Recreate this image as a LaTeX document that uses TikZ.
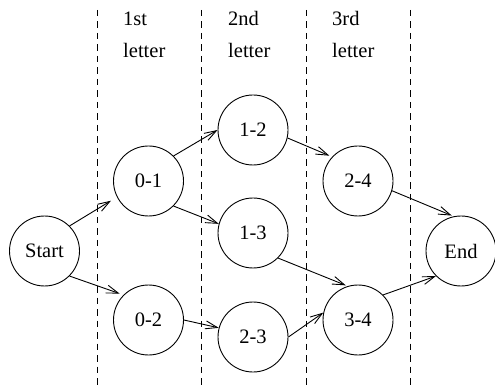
\documentclass[tikz,border=0pt]{standalone}
\usepackage{fontspec}
\setmainfont{Liberation Serif}
\usetikzlibrary{arrows.meta}
\begin{document}
\begin{tikzpicture}[x=1pt,y=-1pt,
  st/.style={circle,draw,line width=0.9pt,minimum size=70pt,inner sep=0pt,font=\fontsize{20.5}{24}\selectfont},
  lbl/.style={anchor=base west,inner sep=0pt,font=\fontsize{20.5}{24}\selectfont},
  arr/.style={line width=0.9pt,-{Straight Barb[length=12pt,width=8pt,line width=0.9pt]}},
  sep/.style={line width=0.9pt,dash pattern=on 6.5pt off 5pt}]
\useasboundingbox (0,0) rectangle (495,387);
\foreach \x/\n in {97/d1,201/d2,306/d3,410/d4}{
  \coordinate (\n t) at (\x,10);
  \coordinate (\n b) at (\x,387);
  \draw[sep] (\n t) -- (\n b);
}
\node[lbl] (l1a) at (123,26) {1st};
\node[lbl] (l1b) at (123,58) {letter};
\node[lbl] (l2a) at (228,26) {2nd};
\node[lbl] (l2b) at (228,58) {letter};
\node[lbl] (l3a) at (332,26) {3rd};
\node[lbl] (l3b) at (332,58) {letter};

\node[st] (s) at (44.5,251) {Start};
\node[st] (a01) at (148.5,181) {0-1};
\node[st] (a02) at (148.5,320) {0-2};
\node[st] (b12) at (253,130) {1-2};
\node[st] (b13) at (253,233) {1-3};
\node[st] (b23) at (253,337) {2-3};
\node[st] (c24) at (358,181) {2-4};
\node[st] (c34) at (358,320) {3-4};
\node[st] (e) at (461,251) {End};

\draw[arr,shorten >=7pt] (s.45) -- (a01.207);
\draw[arr,shorten >=4pt] (s.-45) -- (a02.135);
\draw[arr] (a01.45) -- (b12.180);
\draw[arr] (a01.-45) -- (b13.165);
\draw[arr] (a02.0) -- (b23.165);
\draw[arr,shorten >=3pt] (b12.-13) -- (c24.137);
\draw[arr,shorten >=2pt] (b13.-45) -- (c34.107);
\draw[arr] (b23.0) -- (c34.168);
\draw[arr,shorten >=2pt] (c24.-16) -- (e.102);
\draw[arr] (c34.45) -- (e.225);
\end{tikzpicture}
\end{document}
